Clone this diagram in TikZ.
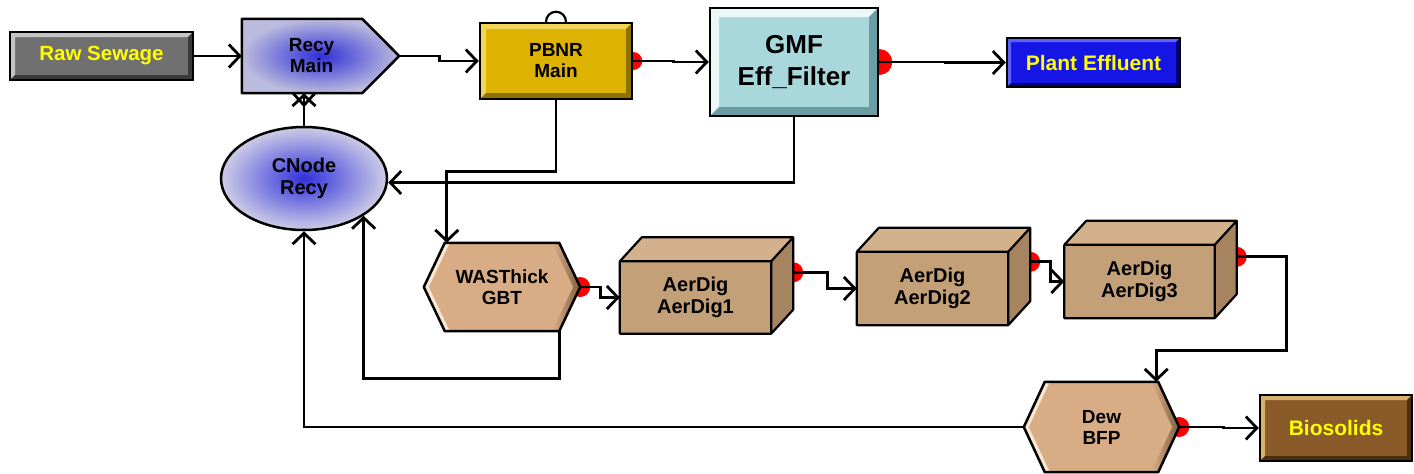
\documentclass[tikz,border=0pt]{standalone}
\usepackage{fontspec}
\setmainfont{Liberation Sans}
\usetikzlibrary{arrows.meta,shapes.geometric,calc}

\pgfdeclarelayer{under}
\pgfdeclarelayer{bodies}
\pgfsetlayers{under,bodies,main}

\definecolor{rawbase}{HTML}{707070}
\definecolor{rawlight}{HTML}{C4C4C4}
\definecolor{rawdark}{HTML}{3A3A3A}
\definecolor{recyin}{HTML}{2F2FD8}
\definecolor{recyout}{HTML}{BBBBDD}
\definecolor{pbnrbase}{HTML}{DDB200}
\definecolor{pbnrlight}{HTML}{F2D458}
\definecolor{pbnrdark}{HTML}{8E7200}
\definecolor{gmfbase}{HTML}{A8D8DC}
\definecolor{gmflight}{HTML}{EAF8F8}
\definecolor{gmfdark}{HTML}{6A9EA4}
\definecolor{effbase}{HTML}{1515E5}
\definecolor{efflight}{HTML}{6060FF}
\definecolor{effdark}{HTML}{00007A}
\definecolor{cnin}{HTML}{3030DC}
\definecolor{cnout}{HTML}{CDCDE6}
\definecolor{tanface}{HTML}{D8AD86}
\definecolor{tanlight}{HTML}{F6E6D2}
\definecolor{tandark}{HTML}{7E5E40}
\definecolor{cubefront}{HTML}{C4A079}
\definecolor{cubetop}{HTML}{D3B18C}
\definecolor{cubeside}{HTML}{A6845F}
\definecolor{biobase}{HTML}{8A5A28}
\definecolor{biolight}{HTML}{D8B070}
\definecolor{biodark}{HTML}{4A2E10}
\definecolor{yellowtxt}{HTML}{FFFF00}
\definecolor{dotred}{HTML}{FF0000}

% 3D tank body drawn behind a node that marks its front face
\newcommand\tankbody[1]{%
  \fill[cubefront] (#1.south west) rectangle (#1.north east);
  \fill[cubetop] (#1.north west) -- ++(22pt,24pt) -- ([shift={(22pt,24pt)}]#1.north east) -- (#1.north east) -- cycle;
  \fill[cubeside] (#1.north east) -- ([shift={(22pt,24pt)}]#1.north east) -- ([shift={(22pt,24pt)}]#1.south east) -- (#1.south east) -- cycle;
  \draw[frame, line width=2.2pt] (#1.south west) rectangle (#1.north east)
    (#1.north west) -- ++(22pt,24pt) -- ([shift={(22pt,24pt)}]#1.north east) -- ([shift={(22pt,24pt)}]#1.south east) -- (#1.south east)
    (#1.north east) -- ([shift={(22pt,24pt)}]#1.north east);
}
% bevelled hexagon drawn behind a node
\newcommand\hexbody[1]{%
  \fill[tanface] (#1.west) -- ([xshift=21pt]#1.north west) -- ([xshift=-21pt]#1.north east) -- (#1.east) -- ([xshift=-21pt]#1.south east) -- ([xshift=21pt]#1.south west) -- cycle;
  \shade[left color=tanface, right color=tandark] ([xshift=-21pt]#1.north east) -- (#1.east) -- ([xshift=-21pt]#1.south east) -- ([xshift=-28pt]#1.south east) -- ([xshift=-7pt]#1.east) -- ([xshift=-28pt]#1.north east) -- cycle;
  \fill[tanlight] ([xshift=21pt]#1.north west) -- (#1.west) -- ([xshift=21pt]#1.south west) -- ([xshift=26pt]#1.south west) -- ([xshift=5pt]#1.west) -- ([xshift=26pt]#1.north west) -- cycle;
  \draw[frame] (#1.west) -- ([xshift=21pt]#1.north west) -- ([xshift=-21pt]#1.north east) -- (#1.east) -- ([xshift=-21pt]#1.south east) -- ([xshift=21pt]#1.south west) -- cycle;
}

\begin{document}
\begin{tikzpicture}[x=1pt, y=-1pt,
  txt/.style={font=\bfseries\fontsize{19}{21}\selectfont, align=center, inner sep=0pt},
  ytxt/.style={txt, text=yellowtxt},
  frame/.style={draw=black, line width=2.5pt, line join=round},
  bevel/.style n args={4}{fill=#1, draw=black, line width=2.5pt,
    path picture={
      \fill[#2] (path picture bounding box.south west) -- (path picture bounding box.north west)
        -- (path picture bounding box.north east) -- ([shift={(-#4,-#4)}]path picture bounding box.north east)
        -- ([shift={(#4,-#4)}]path picture bounding box.north west) -- ([shift={(#4,#4)}]path picture bounding box.south west) -- cycle;
      \fill[#3] (path picture bounding box.south west) -- (path picture bounding box.south east)
        -- (path picture bounding box.north east) -- ([shift={(-#4,-#4)}]path picture bounding box.north east)
        -- ([shift={(-#4,#4)}]path picture bounding box.south east) -- ([shift={(#4,#4)}]path picture bounding box.south west) -- cycle;
    }},
  flow/.style={line width=2.8pt, -{Straight Barb[length=11pt,width=23pt]}},
  wire/.style={line width=2.8pt}
]
\useasboundingbox (0,0) rectangle (1414,474);

% ---- units ----
\node[bevel={rawbase}{rawlight}{rawdark}{5pt}, ytxt, font=\bfseries\fontsize{20.5}{23}\selectfont, minimum width=183pt, minimum height=48pt] (raw) at (101.5,56) {Raw Sewage};
\node[inner sep=0pt, minimum width=157pt, minimum height=74pt] (recy) at (320.5,56) {};
\node[txt] (recytext) at ([xshift=-9pt]recy.center) {Recy\\Main};
\node[bevel={pbnrbase}{pbnrlight}{pbnrdark}{6pt}, txt, minimum width=152pt, minimum height=76pt] (pbnr) at (556,61) {PBNR\\Main};
\node[bevel={gmfbase}{gmflight}{gmfdark}{9pt}, txt, font=\bfseries\fontsize{26}{32}\selectfont, minimum width=168pt, minimum height=108pt] (gmf) at (794,62) {GMF\\Eff\_Filter};
\node[bevel={effbase}{efflight}{effdark}{4pt}, ytxt, font=\bfseries\fontsize{21}{24}\selectfont, minimum width=173pt, minimum height=49pt] (eff) at (1093.5,62.5) {Plant Effluent};
\node[ellipse, draw=black, line width=2.5pt, inner color=cnin, outer color=cnout, txt, font=\bfseries\fontsize{20}{22}\selectfont, minimum width=166pt, minimum height=103pt] (cnode) at (304,178.5) {CNode\\Recy};
\node[txt, minimum width=156pt, minimum height=88pt] (was) at (502,287) {WASThick\\GBT};
\node[txt, font=\bfseries\fontsize{20}{22}\selectfont, minimum width=151pt, minimum height=72pt] (aer1) at (695.5,297.5) {AerDig\\AerDig1};
\node[txt, font=\bfseries\fontsize{20}{22}\selectfont, minimum width=151pt, minimum height=73pt] (aer2) at (932.5,288.5) {AerDig\\AerDig2};
\node[txt, font=\bfseries\fontsize{20}{22}\selectfont, minimum width=150pt, minimum height=73pt] (aer3) at (1139.5,281.5) {AerDig\\AerDig3};
\node[txt, minimum width=155pt, minimum height=90pt] (dew) at (1101.5,427) {Dew\\BFP};
\node[bevel={biobase}{biolight}{biodark}{5pt}, ytxt, font=\bfseries\fontsize{21}{24}\selectfont, minimum width=152pt, minimum height=66pt] (bio) at (1336,428) {Biosolids};

% outlet ports on the tank side faces
\coordinate (aer1out) at ([shift={(22pt,-11pt)}]aer1.north east);
\coordinate (aer2out) at ([shift={(22pt,-10pt)}]aer2.north east);
\coordinate (aer3out) at ([shift={(22pt,-12pt)}]aer3.north east);
\coordinate (recyin) at (cnode.north |- recy.south);

% ---- bodies of the drawn shapes ----
\begin{pgfonlayer}{bodies}
  \shadedraw[inner color=recyin, outer color=recyout, frame] (recy.north west) -- ([xshift=-37pt]recy.north east) -- (recy.east) -- ([xshift=-37pt]recy.south east) -- (recy.south west) -- cycle;
  \hexbody{was}
  \hexbody{dew}
  \tankbody{aer1}
  \tankbody{aer2}
  \tankbody{aer3}
\end{pgfonlayer}

% ---- ports beneath the bodies ----
\begin{pgfonlayer}{under}
  \fill[white] (0,0) rectangle (1414,474);
  \fill[dotred] (pbnr.east) circle (9pt);
  \fill[dotred] (gmf.east) circle (13pt);
  \fill[dotred] (was.east) circle (10pt);
  \fill[dotred] (aer1out) circle (10pt);
  \fill[dotred] (aer2out) circle (10pt);
  \fill[dotred] (aer3out) circle (10pt);
  \fill[dotred] (dew.east) circle (10pt);
  \draw[line width=2.2pt, fill=white] ([xshift=-10pt]pbnr.north) arc[start angle=180, end angle=0, radius=10pt];
\end{pgfonlayer}

% ---- connectors ----
\draw[flow] (raw.east) -- (recy.west);
\draw[flow] (recy.east) -- ++(40,0) |- (pbnr.west);
\draw[flow] (pbnr.east) -- ++(40,0) |- (gmf.west);
\draw[flow] (gmf.east) -- ++(66,0) |- (eff.west);
\draw[flow] (cnode.north) -- (recyin);
\draw[wire] ([xshift=-11pt]recyin) -- ([yshift=-12pt]recyin) -- ([xshift=11pt]recyin);
\draw[flow] (pbnr.south) -- ++(0,71) -| ([xshift=23pt]was.north west);
\draw[flow] (gmf.south) |- ([yshift=-4pt]cnode.east);
\draw[flow] ([xshift=-21pt]was.south east) -- ++(0,47) -| (cnode.-32.5);
\draw[flow] (dew.west) -| (cnode.south);
\draw[flow] (was.east) -- ++(20,0) |- (aer1.west);
\draw[flow] (aer1out) -- ++(34,0) |- (aer2.west);
\draw[flow] (aer2out) -- ++(20,0) |- (aer3.west);
\draw[flow] (aer3out) -- ++(50,0) -- ++(0,94) -| ([xshift=-23pt]dew.north east);
\draw[flow] (dew.east) -- ++(44,0) |- (bio.west);
\end{tikzpicture}
\end{document}
